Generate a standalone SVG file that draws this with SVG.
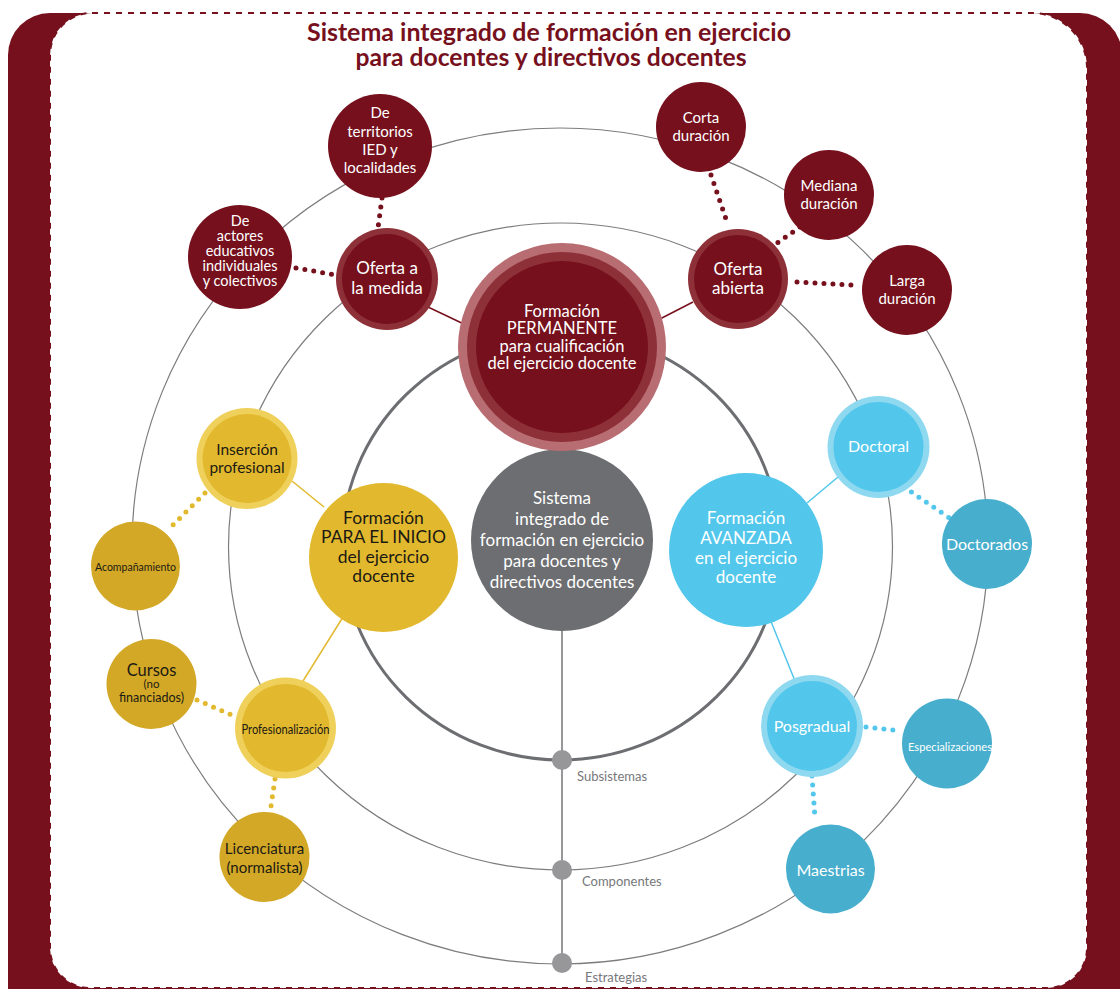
<svg xmlns="http://www.w3.org/2000/svg" width="1120" height="989" viewBox="0 0 1120 989">
<style>
text{font-family:Lato,"Open Sans","DejaVu Sans",sans-serif;text-anchor:middle}
.w{fill:#ffffff}
.k{fill:#1c1a14}
.g{fill:#77787b;text-anchor:start;font-size:13px}
.ring{fill:none;stroke:#7d7d7f;stroke-width:1.2}
.dotr{stroke:#76101d;stroke-width:5;stroke-linecap:round;stroke-dasharray:0 9;fill:none}
.doty{stroke:#e2b92e;stroke-width:5;stroke-linecap:round;stroke-dasharray:0 9;fill:none}
.dotb{stroke:#52c7eb;stroke-width:5;stroke-linecap:round;stroke-dasharray:0 9;fill:none}
.red{fill:#76101d}
.yel{fill:#e2b92e}
.yeld{fill:#d3a826}
.blu{fill:#52c7eb}
.blud{fill:#47aecd}
</style>
<rect x="0" y="0" width="1120" height="989" fill="#ffffff"/>
<g id="frame">
<rect x="8" y="13" width="1114" height="1030" rx="42" fill="#76101d"/>
<path d="M92 13 H1032 A55 55 0 0 1 1087 68 V948 A40 40 0 0 1 1047 988 H90 A40 40 0 0 1 50 948 V55 A42 42 0 0 1 92 13 Z" fill="#ffffff" stroke="#76101d" stroke-width="2" stroke-dasharray="6 6"/>
</g>
<g id="title">
<text x="549" y="41" font-size="24" font-weight="700" fill="#76101d" textLength="484" lengthAdjust="spacingAndGlyphs">Sistema integrado de formación en ejercicio</text>
<text x="551" y="66" font-size="24" font-weight="700" fill="#76101d" textLength="391" lengthAdjust="spacingAndGlyphs">para docentes y directivos docentes</text>
</g>
<g id="rings">
<ellipse class="ring" cx="560" cy="546" rx="428" ry="418"/>
<ellipse class="ring" cx="560.5" cy="546.5" rx="332" ry="323.5"/>
<ellipse cx="561" cy="546" rx="219" ry="214" fill="none" stroke="#6d6e71" stroke-width="3"/>
<line x1="562" y1="620" x2="562" y2="963" stroke="#97979a" stroke-width="2"/>
<circle cx="562" cy="760" r="10" fill="#97979a"/>
<circle cx="562" cy="870" r="10" fill="#97979a"/>
<circle cx="562" cy="963" r="10" fill="#97979a"/>
<text class="g" x="577" y="781">Subsistemas</text>
<text class="g" x="582" y="886">Componentes</text>
<text class="g" x="585" y="982">Estrategias</text>
</g>
<g id="connectors">
<line x1="428" y1="307" x2="468" y2="326" stroke="#76101d" stroke-width="1.5"/>
<line x1="693" y1="302" x2="658" y2="320" stroke="#76101d" stroke-width="1.5"/>
<path class="dotr" d="M296 268 L336 275"/>
<path class="dotr" d="M382 198 L378 228"/>
<path class="dotr" d="M711 175 L728 225"/>
<path class="dotr" d="M800 227 L773 246"/>
<path class="dotr" d="M797 282 L852 285"/>
<line x1="292" y1="481" x2="324" y2="507" stroke="#e2b92e" stroke-width="1.5"/>
<line x1="343" y1="617" x2="303" y2="681" stroke="#e2b92e" stroke-width="1.5"/>
<path class="doty" d="M205 493 L167 531"/>
<path class="doty" d="M197 700 L234 716"/>
<path class="doty" d="M275 779 L270 813"/>
<line x1="807" y1="503" x2="838" y2="477" stroke="#52c7eb" stroke-width="1.5"/>
<line x1="770" y1="619" x2="795" y2="681" stroke="#52c7eb" stroke-width="1.5"/>
<path class="dotb" d="M904 487 L951 519"/>
<path class="dotb" d="M866 727 L894 730"/>
<path class="dotb" d="M812 776 L815 818"/>
</g>
<g id="center">
<circle cx="562" cy="540" r="91" fill="#6d6e71"/>
<text class="w" font-size="17"><tspan x="562" y="504">Sistema</tspan><tspan x="562" y="525">integrado de</tspan><tspan x="562" y="546">formación en ejercicio</tspan><tspan x="562" y="567">para docentes y</tspan><tspan x="562" y="588">directivos docentes</tspan></text>
</g>
<g id="permanente">
<circle cx="562" cy="347" r="104" fill="#b86d72"/>
<circle cx="562" cy="347" r="95" fill="#8e3038"/>
<circle cx="562" cy="347" r="86" class="red"/>
<text class="w" font-size="16.5"><tspan x="562" y="317">Formación</tspan><tspan x="562" y="334">PERMANENTE</tspan><tspan x="562" y="352">para cualificación</tspan><tspan x="562" y="369">del ejercicio docente</tspan></text>
</g>
<g id="oferta-medida">
<circle cx="387" cy="279" r="51" fill="#8e3038"/>
<circle cx="387" cy="279" r="45" class="red"/>
<text class="w" font-size="17"><tspan x="387" y="274">Oferta a</tspan><tspan x="387" y="294">la medida</tspan></text>
</g>
<g id="oferta-abierta">
<circle cx="738" cy="279" r="50" fill="#8e3038"/>
<circle cx="738" cy="279" r="44" class="red"/>
<text class="w" font-size="17"><tspan x="738" y="275">Oferta</tspan><tspan x="738" y="294">abierta</tspan></text>
</g>
<g id="territorios">
<circle cx="380" cy="146" r="52" class="red"/>
<text class="w" font-size="15"><tspan x="380" y="118">De</tspan><tspan x="380" y="137">territorios</tspan><tspan x="380" y="155">IED y</tspan><tspan x="380" y="173">localidades</tspan></text>
</g>
<g id="actores">
<circle cx="240" cy="257" r="52" class="red"/>
<text class="w" font-size="14.5"><tspan x="240" y="226">De</tspan><tspan x="240" y="241">actores</tspan><tspan x="240" y="256">educativos</tspan><tspan x="240" y="271">individuales</tspan><tspan x="240" y="286">y colectivos</tspan></text>
</g>
<g id="corta">
<circle cx="701" cy="127" r="45" class="red"/>
<text class="w" font-size="15"><tspan x="701" y="123">Corta</tspan><tspan x="701" y="141">duración</tspan></text>
</g>
<g id="mediana">
<circle cx="829" cy="195" r="45" class="red"/>
<text class="w" font-size="15"><tspan x="829" y="191">Mediana</tspan><tspan x="829" y="209">duración</tspan></text>
</g>
<g id="larga">
<circle cx="907" cy="290" r="45" class="red"/>
<text class="w" font-size="15"><tspan x="907" y="286">Larga</tspan><tspan x="907" y="304">duración</tspan></text>
</g>
<g id="inicio">
<circle cx="383.5" cy="557.5" r="74.5" class="yel"/>
<text class="k" font-size="17.5"><tspan x="383.5" y="524">Formación</tspan><tspan x="383.5" y="543">PARA EL INICIO</tspan><tspan x="383.5" y="563">del ejercicio</tspan><tspan x="383.5" y="582">docente</tspan></text>
</g>
<g id="insercion">
<circle cx="247" cy="458.5" r="50.5" fill="#efd05a"/>
<circle cx="247" cy="458.5" r="44.5" class="yel"/>
<text class="k" font-size="15.5"><tspan x="247" y="455">Inserción</tspan><tspan x="247" y="473">profesional</tspan></text>
</g>
<g id="acompanamiento">
<circle cx="135.5" cy="566" r="44.5" class="yeld"/>
<text class="k" x="135.5" y="571" font-size="12" textLength="81" lengthAdjust="spacingAndGlyphs">Acompañamiento</text>
</g>
<g id="cursos">
<circle cx="151.5" cy="684" r="45" class="yeld"/>
<text class="k"><tspan x="151.5" y="676" font-size="16.5">Cursos</tspan><tspan x="151.5" y="688" font-size="11.5">(no</tspan><tspan x="151.5" y="702" font-size="12.5">financiados)</tspan></text>
</g>
<g id="profesionalizacion">
<circle cx="285.5" cy="728" r="50.5" fill="#efd05a"/>
<circle cx="285.5" cy="728" r="44" class="yel"/>
<text class="k" x="285.5" y="734" font-size="12.5" textLength="88" lengthAdjust="spacingAndGlyphs">Profesionalización</text>
</g>
<g id="licenciatura">
<circle cx="264.5" cy="857" r="45" class="yeld"/>
<text class="k" font-size="15"><tspan x="264.5" y="854">Licenciatura</tspan><tspan x="264.5" y="873">(normalista)</tspan></text>
</g>
<g id="avanzada">
<circle cx="746" cy="550" r="77" class="blu"/>
<text class="w" font-size="17"><tspan x="746" y="524">Formación</tspan><tspan x="746" y="544">AVANZADA</tspan><tspan x="746" y="564">en el ejercicio</tspan><tspan x="746" y="583">docente</tspan></text>
</g>
<g id="doctoral">
<circle cx="878.5" cy="447" r="51" fill="#8fd9f0"/>
<circle cx="878.5" cy="447" r="45" class="blu"/>
<text class="w" x="878.5" y="452" font-size="16">Doctoral</text>
</g>
<g id="doctorados">
<circle cx="987" cy="544" r="45" class="blud"/>
<text class="w" x="987" y="550" font-size="16">Doctorados</text>
</g>
<g id="posgradual">
<circle cx="812" cy="726" r="51" fill="#8fd9f0"/>
<circle cx="812" cy="726" r="45" class="blu"/>
<text class="w" x="812" y="732" font-size="16">Posgradual</text>
</g>
<g id="especializaciones">
<circle cx="947" cy="743.5" r="45" class="blud"/>
<text class="w" x="950" y="751" font-size="12" textLength="84" lengthAdjust="spacingAndGlyphs">Especializaciones</text>
</g>
<g id="maestrias">
<circle cx="830.5" cy="869" r="44.5" class="blud"/>
<text class="w" x="830.5" y="876" font-size="16">Maestrias</text>
</g>
</svg>
